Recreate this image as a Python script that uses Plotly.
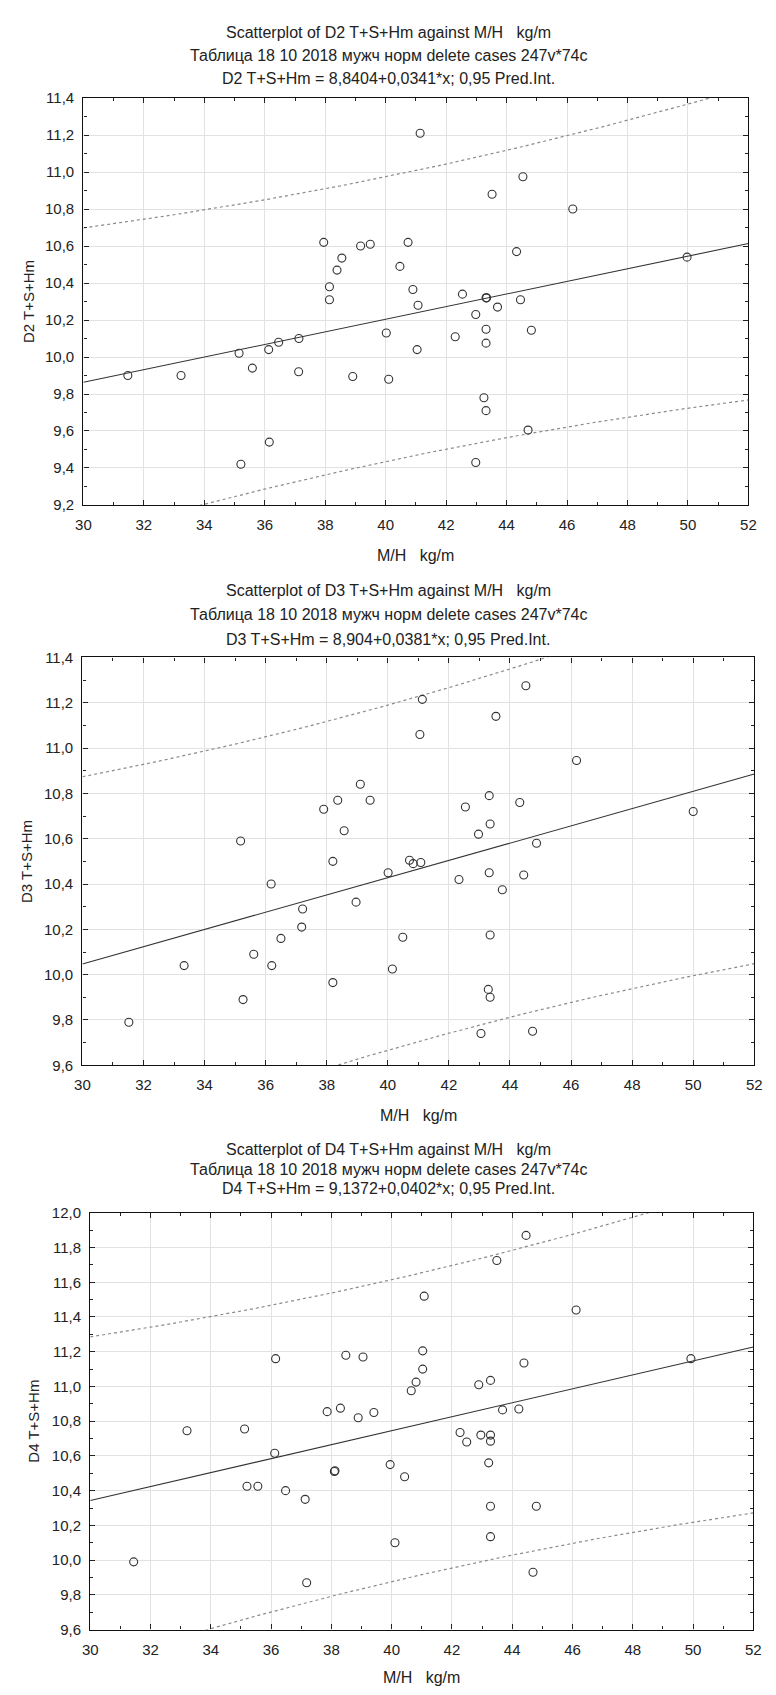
import numpy as np
import plotly.graph_objects as go

# ---------------- data ----------------
X_RANGE = [30, 52]
X_TICKS = list(range(30, 53, 2))
T_CRIT = 2.017  # t(0.975, n-2)

D2_X = [31.47, 33.23, 35.15, 35.21, 35.59, 36.13, 36.15, 36.46, 37.12, 37.13, 37.95, 38.14, 38.14, 38.39, 38.55,
        38.91, 39.17, 39.49, 40.02, 40.10, 40.47, 40.74, 40.90, 41.07, 41.04, 41.14, 42.30, 42.54, 42.98, 42.98,
        43.32, 43.34, 43.32, 43.32, 43.25, 43.32, 43.52, 43.70, 44.33, 44.46, 44.54, 44.71, 44.82, 46.19, 49.97]
D2_Y = [9.90, 9.90, 10.02, 9.42, 9.94, 10.04, 9.54, 10.08, 9.92, 10.10, 10.62, 10.38, 10.31, 10.47, 10.535,
        9.895, 10.60, 10.61, 10.13, 9.88, 10.49, 10.62, 10.365, 10.28, 10.04, 11.21, 10.11, 10.34, 10.23, 9.43,
        10.32, 10.32, 10.15, 10.075, 9.78, 9.71, 10.88, 10.27, 10.57, 10.31, 10.975, 9.605, 10.145, 10.80, 10.54]
D2_COEF = (8.8404, 0.0341)
D2_YRANGE = [9.2, 11.4]

D3_X = [31.52, 33.33, 35.18, 35.26, 35.61, 36.18, 36.20, 36.50, 37.18, 37.21, 37.90, 38.36, 38.20, 38.57, 39.10,
        39.42, 38.96, 38.20, 40.01, 40.15, 40.49, 40.71, 40.83, 41.08, 41.13, 41.05, 42.33, 42.54, 42.97, 43.32,
        43.35, 43.32, 43.35, 43.29, 43.35, 43.05, 43.54, 44.52, 44.32, 44.45, 43.75, 44.87, 44.74, 46.18, 50.00]
D3_Y = [9.79, 10.04, 10.59, 9.89, 10.09, 10.40, 10.04, 10.16, 10.21, 10.29, 10.73, 10.77, 10.50, 10.635, 10.84,
        10.77, 10.32, 9.965, 10.45, 10.025, 10.165, 10.505, 10.49, 10.495, 11.215, 11.06, 10.42, 10.74, 10.62, 10.79,
        10.665, 10.45, 10.175, 9.935, 9.90, 9.74, 11.14, 11.275, 10.76, 10.44, 10.375, 10.58, 9.75, 10.945, 10.72]
D3_COEF = (8.904, 0.0381)
D3_YRANGE = [9.6, 11.4]

D4_X = [31.44, 33.21, 35.12, 35.20, 35.56, 36.15, 36.12, 36.48, 37.13, 37.18, 37.86, 38.30, 38.10, 38.12, 38.48,
        39.05, 38.89, 39.41, 39.95, 40.43, 40.11, 40.65, 40.81, 41.03, 41.03, 41.08, 42.27, 42.49, 42.89, 43.28,
        42.96, 43.28, 43.28, 43.22, 43.28, 43.28, 43.49, 44.46, 43.68, 44.22, 44.39, 44.80, 44.69, 46.12, 49.93]
D4_Y = [9.99, 10.745, 10.755, 10.425, 10.425, 11.16, 10.615, 10.40, 10.35, 9.87, 10.855, 10.875, 10.51, 10.515, 11.18,
        11.17, 10.82, 10.85, 10.55, 10.48, 10.10, 10.975, 11.025, 11.10, 11.205, 11.52, 10.735, 10.68, 11.01, 11.035,
        10.72, 10.72, 10.685, 10.56, 10.31, 10.135, 11.725, 11.87, 10.865, 10.87, 11.135, 10.31, 9.93, 11.44, 11.16]
D4_COEF = (9.1372, 0.0402)
D4_YRANGE = [9.6, 12.0]

NAMES = ["D2", "D3", "D4"]
TITLE_1 = "Scatterplot of {} T+S+Hm against M/H\u00a0\u00a0 kg/m"
TITLE_2 = "Таблица 18 10 2018 мужч норм delete cases 247v*74c"
TITLE_3 = ["D2 T+S+Hm = 8,8404+0,0341*x; 0,95 Pred.Int.",
           "D3 T+S+Hm = 8,904+0,0381*x; 0,95 Pred.Int.",
           "D4 T+S+Hm = 9,1372+0,0402*x; 0,95 Pred.Int."]
Y_TITLES = ["D2 T+S+Hm", "D3 T+S+Hm", "D4 T+S+Hm"]
X_TITLE = "M/H\u00a0\u00a0 kg/m"

# ---------------- layout geometry (pixels) ----------------
W, H = 776, 1695
# plot frames: (left, right, top, bottom)
FRAMES = [(77, 756, 90, 501), (76, 762, 655, 1067), (84, 761, 1216, 1637)]
TITLE_Y = [(24, 47, 70), (587, 612, 637), (1152, 1172, 1191)]
XTITLE_Y = [552, 1118, 1685]
YTITLE_X = [21, 19, 26]

FONT = "Liberation Sans, Arial, sans-serif"
TXT = "#222222"

panels = [
    (D2_X, D2_Y, D2_COEF, D2_YRANGE),
    (D3_X, D3_Y, D3_COEF, D3_YRANGE),
    (D4_X, D4_Y, D4_COEF, D4_YRANGE),
]

fig = go.Figure()
annotations = []
layout_axes = {}

for i, (xs, ys, coef, yr) in enumerate(panels):
    k = "" if i == 0 else str(i + 1)
    xref, yref = "x" + k, "y" + k
    xs_a = np.array(xs)
    ys_a = np.array(ys)
    a, b = coef
    n = len(xs_a)
    resid = ys_a - (a + b * xs_a)
    s = np.sqrt(np.sum(resid ** 2) / (n - 2))
    xm = xs_a.mean()
    sxx = np.sum((xs_a - xm) ** 2)
    xl = np.linspace(X_RANGE[0], X_RANGE[1], 221)
    yl = a + b * xl
    half = T_CRIT * s * np.sqrt(1 + 1 / n + (xl - xm) ** 2 / sxx)

    fig.add_trace(go.Scatter(x=xl, y=yl + half, mode="lines", xaxis=xref, yaxis=yref,
                             line=dict(color="#8a8a8a", width=1.2, dash="3px,3px"), hoverinfo="skip"))
    fig.add_trace(go.Scatter(x=xl, y=yl - half, mode="lines", xaxis=xref, yaxis=yref,
                             line=dict(color="#8a8a8a", width=1.2, dash="3px,3px"), hoverinfo="skip"))
    fig.add_trace(go.Scatter(x=xl, y=yl, mode="lines", xaxis=xref, yaxis=yref,
                             line=dict(color="#333333", width=1.1), hoverinfo="skip"))
    fig.add_trace(go.Scatter(x=xs, y=ys, mode="markers", xaxis=xref, yaxis=yref,
                             marker=dict(symbol="circle-open", size=8, color="#333333",
                                         line=dict(width=1.1, color="#333333"))))

    L, R, T, B = FRAMES[i]
    xdom = [L / W, R / W]
    ydom = [1 - B / H, 1 - T / H]
    yticks = list(np.round(np.arange(yr[0], yr[1] + 1e-9, 0.2), 1))
    common = dict(showline=True, linecolor="#111111", linewidth=1.4, mirror="ticks",
                  ticks="inside", ticklen=5, tickcolor="#222222", tickwidth=1,
                  showgrid=True, gridcolor="#e2e2e2", gridwidth=1, zeroline=False,
                  tickfont=dict(family=FONT, size=15, color=TXT), fixedrange=True)
    layout_axes["xaxis" + k] = dict(domain=xdom, range=X_RANGE, anchor=yref, tickvals=X_TICKS,
                                    minor=dict(ticks="inside", ticklen=3, dtick=1, tickcolor="#222222",
                                               showgrid=False),
                                    ticklabelstandoff=6, **common)
    layout_axes["yaxis" + k] = dict(domain=ydom, range=yr, anchor=xref, tickvals=yticks,
                                    tickformat=".1f",
                                    minor=dict(ticks="inside", ticklen=3, dtick=0.1, tickcolor="#222222",
                                               showgrid=False),
                                    ticklabelstandoff=5, **common)

    cx_plot = (L + R) / 2 / W
    for j, txt in enumerate([TITLE_1.format(NAMES[i]), TITLE_2, TITLE_3[i]]):
        annotations.append(dict(text=txt, x=0.5, y=1 - TITLE_Y[i][j] / H, xref="paper", yref="paper",
                                xanchor="center", yanchor="middle", showarrow=False,
                                font=dict(family=FONT, size=16, color=TXT)))
    annotations.append(dict(text=X_TITLE, x=cx_plot, y=1 - XTITLE_Y[i] / H, xref="paper", yref="paper",
                            xanchor="center", yanchor="middle", showarrow=False,
                            font=dict(family=FONT, size=16, color=TXT)))
    annotations.append(dict(text=Y_TITLES[i], x=YTITLE_X[i] / W, y=1 - (T + B) / 2 / H,
                            xref="paper", yref="paper", xanchor="center", yanchor="middle",
                            textangle=-90, showarrow=False,
                            font=dict(family=FONT, size=15, color=TXT)))

fig.update_layout(width=W, height=H, margin=dict(l=0, r=0, t=0, b=0),
                  paper_bgcolor="#ffffff", plot_bgcolor="#ffffff",
                  showlegend=False, separators=", ",
                  annotations=annotations, **layout_axes)

fig.write_html("out.html", config={"displayModeBar": False})
